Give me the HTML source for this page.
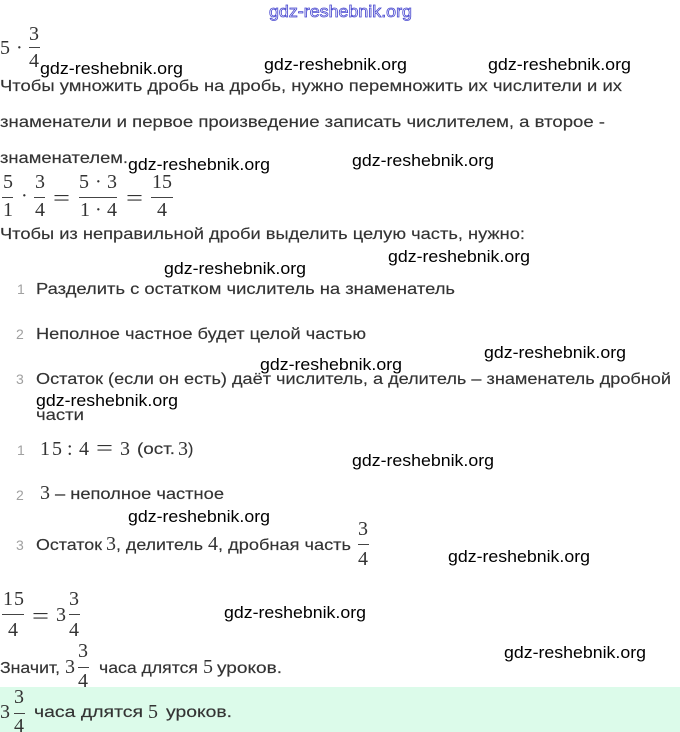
<!DOCTYPE html>
<html><head><meta charset="utf-8"><style>
html,body{margin:0;padding:0;background:#fff}
svg{display:block}
text{white-space:pre}
.t{font:16px "Liberation Sans",sans-serif;fill:#333;stroke:#333;stroke-width:.15}
.n{font:14px "Liberation Sans",sans-serif;fill:#a0a0a0}
.m{font:20px "Liberation Serif",serif;fill:#333}
.e{font:22px "Liberation Serif",serif;fill:#333}
.w{font:17px "Liberation Sans",sans-serif;fill:#000}
.o{font:17px "Liberation Sans",sans-serif;fill:#fff;stroke:#4a4ad0;stroke-width:.8}
line{stroke:#444;stroke-width:1}
</style></head><body>
<svg width="680" height="732" viewBox="0 0 680 732" xmlns="http://www.w3.org/2000/svg">
<rect x="0" y="687" width="680" height="45" fill="#dcfbea"/>

<text class="o" x="269" y="17" textLength="143" lengthAdjust="spacingAndGlyphs">gdz-reshebnik.org</text>

<!-- 5 · 3/4 -->
<text class="m" x="0" y="54">5</text><text class="m" x="16" y="54">·</text>
<text class="m" x="29" y="40">3</text><line x1="29" x2="40" y1="47.5" y2="47.5"/><text class="m" x="29" y="67">4</text>

<text class="t" x="0" y="91" textLength="622" lengthAdjust="spacingAndGlyphs">Чтобы умножить дробь на дробь, нужно перемножить их числители и их</text>
<text class="t" x="0" y="127" textLength="605" lengthAdjust="spacingAndGlyphs">знаменатели и первое произведение записать числителем, а второе -</text>
<text class="t" x="0" y="163" textLength="128" lengthAdjust="spacingAndGlyphs">знаменателем.</text>

<!-- 5/1 · 3/4 = 5·3/1·4 = 15/4 -->
<text class="m" x="3" y="188">5</text><line x1="2" x2="13" y1="197.5" y2="197.5"/><text class="m" x="3" y="216">1</text>
<text class="m" x="21" y="202">·</text>
<text class="m" x="35" y="188">3</text><line x1="34" x2="45" y1="197.5" y2="197.5"/><text class="m" x="35" y="216">4</text>
<text class="e" x="53" y="205" textLength="17" lengthAdjust="spacingAndGlyphs">=</text>
<text class="m" x="79" y="188">5</text><text class="m" x="95" y="188">·</text><text class="m" x="107" y="188">3</text>
<line x1="79" x2="117" y1="197.5" y2="197.5"/>
<text class="m" x="80" y="216">1</text><text class="m" x="95" y="216">·</text><text class="m" x="107" y="216">4</text>
<text class="e" x="126" y="205" textLength="17" lengthAdjust="spacingAndGlyphs">=</text>
<text class="m" x="152" y="188" textLength="20">15</text><line x1="151" x2="173" y1="197.5" y2="197.5"/><text class="m" x="157" y="216">4</text>

<text class="t" x="0" y="239" textLength="525" lengthAdjust="spacingAndGlyphs">Чтобы из неправильной дроби выделить целую часть, нужно:</text>

<text class="n" x="17" y="294">1</text>
<text class="t" x="36" y="294" textLength="419" lengthAdjust="spacingAndGlyphs">Разделить с остатком числитель на знаменатель</text>
<text class="n" x="16" y="339">2</text>
<text class="t" x="36" y="339" textLength="330" lengthAdjust="spacingAndGlyphs">Неполное частное будет целой частью</text>
<text class="n" x="16" y="384">3</text>
<text class="t" x="36" y="384" textLength="635" lengthAdjust="spacingAndGlyphs">Остаток (если он есть) даёт числитель, а делитель – знаменатель дробной</text>
<text class="t" x="36" y="420" textLength="48" lengthAdjust="spacingAndGlyphs">части</text>

<text class="n" x="17" y="455">1</text>
<text class="m" x="40" y="455" textLength="22">15</text>
<text class="m" x="67" y="455">:</text>
<text class="m" x="79" y="455">4</text>
<text class="e" x="96" y="455" textLength="17" lengthAdjust="spacingAndGlyphs">=</text>
<text class="m" x="120" y="455">3</text>
<text class="t" x="137" y="454" textLength="38" lengthAdjust="spacingAndGlyphs">(ост.</text>
<text class="m" x="178" y="455">3</text><text class="t" x="188" y="454">)</text>

<text class="n" x="16" y="500">2</text>
<text class="m" x="40" y="499">3</text>
<text class="t" x="55" y="499" textLength="169" lengthAdjust="spacingAndGlyphs">– неполное частное</text>

<text class="n" x="16" y="550">3</text>
<text class="t" x="36" y="550" textLength="66" lengthAdjust="spacingAndGlyphs">Остаток</text>
<text class="m" x="106" y="550">3</text>
<text class="t" x="116" y="550" textLength="87" lengthAdjust="spacingAndGlyphs">, делитель</text>
<text class="m" x="208" y="550">4</text>
<text class="t" x="218" y="550" textLength="133" lengthAdjust="spacingAndGlyphs">, дробная часть</text>
<text class="m" x="358" y="535">3</text><line x1="358" x2="369" y1="544.5" y2="544.5"/><text class="m" x="358" y="565">4</text>

<!-- 15/4 = 3 3/4 -->
<text class="m" x="3" y="605" textLength="21">15</text><line x1="2" x2="24" y1="614.5" y2="614.5"/><text class="m" x="8" y="636">4</text>
<text class="e" x="32" y="623" textLength="17" lengthAdjust="spacingAndGlyphs">=</text>
<text class="m" x="56" y="621">3</text>
<text class="m" x="69" y="605">3</text><line x1="69" x2="80" y1="614.5" y2="614.5"/><text class="m" x="69" y="636">4</text>

<text class="t" x="0" y="673" textLength="60" lengthAdjust="spacingAndGlyphs">Значит,</text>
<text class="m" x="65" y="673">3</text>
<text class="m" x="78" y="657">3</text><line x1="78" x2="89" y1="667.5" y2="667.5"/><text class="m" x="78" y="687">4</text>
<text class="t" x="99" y="673" textLength="99" lengthAdjust="spacingAndGlyphs">часа длятся</text>
<text class="m" x="203" y="673">5</text>
<text class="t" x="217" y="673" textLength="65" lengthAdjust="spacingAndGlyphs">уроков.</text>

<text class="m" x="0" y="718">3</text>
<text class="m" x="14" y="703">3</text><line x1="14" x2="25" y1="713.5" y2="713.5"/><text class="m" x="14" y="732">4</text>
<text class="t" x="34" y="717" textLength="109" lengthAdjust="spacingAndGlyphs">часа длятся</text>
<text class="m" x="148" y="718">5</text>
<text class="t" x="166" y="717" textLength="66" lengthAdjust="spacingAndGlyphs">уроков.</text>

<g>
<text class="w" x="40" y="74" textLength="143" lengthAdjust="spacingAndGlyphs">gdz-reshebnik.org</text>
<text class="w" x="264" y="70" textLength="143" lengthAdjust="spacingAndGlyphs">gdz-reshebnik.org</text>
<text class="w" x="488" y="70" textLength="143" lengthAdjust="spacingAndGlyphs">gdz-reshebnik.org</text>
<text class="w" x="128" y="170" textLength="142" lengthAdjust="spacingAndGlyphs">gdz-reshebnik.org</text>
<text class="w" x="352" y="166" textLength="142" lengthAdjust="spacingAndGlyphs">gdz-reshebnik.org</text>
<text class="w" x="164" y="274" textLength="142" lengthAdjust="spacingAndGlyphs">gdz-reshebnik.org</text>
<text class="w" x="388" y="262" textLength="142" lengthAdjust="spacingAndGlyphs">gdz-reshebnik.org</text>
<text class="w" x="260" y="370" textLength="142" lengthAdjust="spacingAndGlyphs">gdz-reshebnik.org</text>
<text class="w" x="484" y="358" textLength="142" lengthAdjust="spacingAndGlyphs">gdz-reshebnik.org</text>
<text class="w" x="36" y="406" textLength="142" lengthAdjust="spacingAndGlyphs">gdz-reshebnik.org</text>
<text class="w" x="352" y="466" textLength="142" lengthAdjust="spacingAndGlyphs">gdz-reshebnik.org</text>
<text class="w" x="128" y="522" textLength="142" lengthAdjust="spacingAndGlyphs">gdz-reshebnik.org</text>
<text class="w" x="448" y="562" textLength="142" lengthAdjust="spacingAndGlyphs">gdz-reshebnik.org</text>
<text class="w" x="224" y="618" textLength="142" lengthAdjust="spacingAndGlyphs">gdz-reshebnik.org</text>
<text class="w" x="504" y="658" textLength="142" lengthAdjust="spacingAndGlyphs">gdz-reshebnik.org</text>
</g>
</svg>
</body></html>
